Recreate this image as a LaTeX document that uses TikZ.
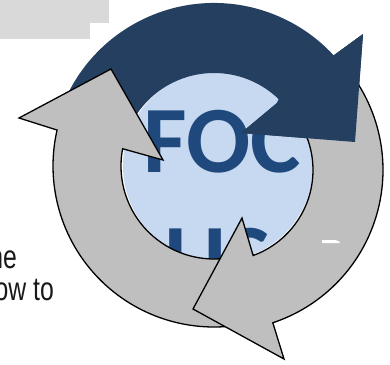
\documentclass[tikz,border=0pt]{standalone}
\usepackage{fontspec}
\newfontfamily\focusfont{Carlito}
\newfontfamily\narrowsans[FakeStretch=0.75]{Liberation Sans}
\definecolor{ringgray}{HTML}{BFBFBF}
\definecolor{boxgray}{HTML}{D9D9D9}
\definecolor{darkarc}{HTML}{243F60}
\definecolor{centerblue}{HTML}{C6D9F1}
\definecolor{focusblue}{HTML}{1F497D}
\begin{document}
\begin{tikzpicture}[x=1pt, y=1pt, grayarrow/.style={fill=ringgray, draw=black, line width=1.3pt, line join=miter}, focus/.style={anchor=base, inner sep=0pt, text=focusblue, font=\focusfont\bfseries\fontsize{95}{117}\selectfont}, sidetext/.style={anchor=base east, inner sep=0pt, text=black!90, font=\narrowsans\fontsize{33}{33}\selectfont}]
        \useasboundingbox (0,0) rectangle (390,364);
        \coordinate (cl) at (214,198);
        \coordinate (cb) at (222,194);
        \coordinate (cc) at (218,198);
        \coordinate (lbarbo) at (19,246);
        \coordinate (ltip) at (111,295);
        \coordinate (lbarbi) at (163,204);
        \coordinate (bbarbo) at (284,5);
        \coordinate (btip) at (193,55);
        \coordinate (bbarbi) at (242,146);
        \coordinate (dbarbo) at (363,330);
        \coordinate (dtip) at (355,222);
        \coordinate (dbarbi) at (241,231);
        % boxes and cut text
        \fill[boxgray] (0,341) rectangle (109,364);
        \fill[boxgray] (0,325) rectangle (90,341);
        \node[sidetext] (lineA) at (17,96) {ne};
        \node[sidetext] (lineB) at (54,64) {ow to};
        % centre
        \fill[centerblue] (cc) circle[radius=95];
        \begin{scope}
            \clip (cc) circle[radius=95];
            \node[focus] (focA) at (222,191) {FOC};
            \node[focus] (focB) at (218,74) {US};
        \end{scope}
        % arrows
        \fill[darkarc] ([shift={(cl)}]160:163) arc[start angle=160, end angle=42.75, radius=163] -- (dbarbo) -- (dtip) -- (dbarbi) -- ([shift={(cl)}]45:89) -- ([shift={(cl)}]46:93) arc[start angle=46, end angle=160, radius=93] -- cycle;
        \draw[grayarrow] ([shift={(cl)}]-80:161) arc[start angle=-80, end angle=-192.9, radius=161] -- (lbarbo) -- (ltip) -- (lbarbi) -- ([shift={(cl)}]-190.7:93) arc[start angle=-190.7, end angle=-80, radius=93] -- cycle;
        \draw[grayarrow] ([shift={(cb)}]36:161) arc[start angle=36, end angle=-71.6, radius=161] -- (bbarbo) -- (btip) -- (bbarbi) -- ([shift={(cb)}]-70:91) arc[start angle=-70, end angle=36, radius=91] -- cycle;
        \fill[darkarc] ([shift={(cl)}]42.75:163) -- (dbarbo) -- (dtip) -- (dbarbi) -- ([shift={(cl)}]45:89) -- cycle;
        \fill[white] (322,124) -- (335,124) .. controls (338,124) and (340,122) .. (340,121) -- (322,121) -- cycle;
    \end{tikzpicture}
\end{document}
